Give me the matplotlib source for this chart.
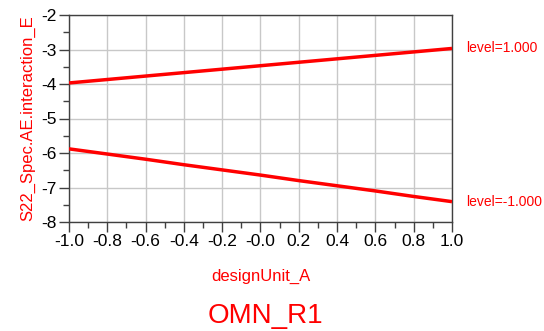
import numpy as np
import matplotlib.pyplot as plt
from matplotlib.ticker import MultipleLocator

plt.rcParams['font.family'] = ['Liberation Sans', 'DejaVu Sans']
plt.rcParams['axes.unicode_minus'] = False

# données
design_unit = [-1.0, -0.8, -0.6, -0.4, -0.2, 0.0, 0.2, 0.4, 0.6, 0.8, 1.0]
level_pos = [-3.97, -3.87, -3.77, -3.67, -3.57, -3.47, -3.37, -3.27, -3.17, -3.07, -2.97]
level_neg = [-5.88, -6.03, -6.18, -6.34, -6.49, -6.64, -6.80, -6.95, -7.10, -7.26, -7.41]
labels = ['level=1.000', 'level=-1.000']

fig = plt.figure(figsize=(5.44, 3.31), dpi=100)
ax = fig.add_axes([69/544, 1 - 222/331, (452 - 69)/544, (222 - 15)/331])

red = '#ff0000'
for y, lab in zip([level_pos, level_neg], labels):
    ax.plot(design_unit, y, color=red, lw=2.5, solid_capstyle='butt', zorder=3)
    ax.annotate(lab, xy=(design_unit[-1], y[-1]), xytext=(10, 0),
                textcoords='offset points', color=red, fontsize=10,
                va='center', ha='left', annotation_clip=False)

ax.set_xlim(-1, 1)
ax.set_ylim(-8, -2)
ax.xaxis.set_minor_locator(MultipleLocator(0.1))
ax.yaxis.set_major_locator(MultipleLocator(1))
ax.yaxis.set_minor_locator(MultipleLocator(0.5))
xt = np.arange(-1, 1.01, 0.2)
ax.set_xticks(xt)
ax.set_xticklabels([f'{v:.1f}' for v in xt])
ax.grid(True, which='major', color='#c8c8c8', lw=1)
ax.set_axisbelow(True)

for s in ax.spines.values():
    s.set_color('#404040')
    s.set_linewidth(1)
ax.tick_params(which='major', length=7, width=1, color='#404040', labelsize=12.5, pad=2)
ax.tick_params(which='minor', length=4, width=1, color='#404040')

ax.set_xlabel('designUnit_A', color=red, fontsize=12, labelpad=14)
ax.set_ylabel('S22_Spec.AE.interaction_E', color=red, fontsize=12, labelpad=4)
fig.text(265/544, 1 - 316/331, 'OMN_R1', color=red, fontsize=20, ha='center', va='center')

fig.savefig('out.png', dpi=100)
